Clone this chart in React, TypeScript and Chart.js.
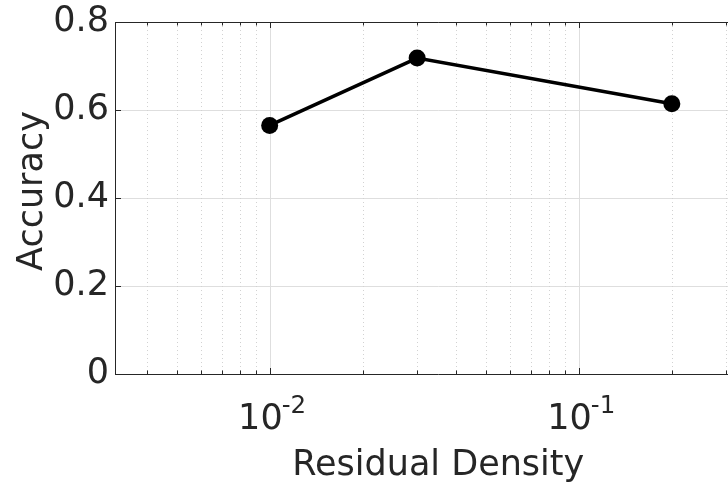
import React, { useEffect, useRef } from "react";
import { Chart, registerables } from "chart.js";

Chart.register(...registerables);

// ---- data ----
const xValues = [0.01, 0.03, 0.2];
const accuracy = [0.565, 0.718, 0.614];
const yTicks = [0, 0.2, 0.4, 0.6, 0.8];
const yTickLabels = ["0", "0.2", "0.4", "0.6", "0.8"];
const xMajorTicks = [0.01, 0.1];
const xTickExponents = ["-2", "-1"];
const xMin = 0.00316;
const xMax = 0.39;
const xTitle = "Residual Density";
const yTitle = "Accuracy";

const FONT = "'DejaVu Sans', sans-serif";
const TEXT = "#262626";
const GRID = "#dedede";
const MINOR_GRID = "#d2d2d2";
const AXIS = "#262626";
const FS = 35;

const framePlugin = {
  id: "frame",
  beforeDatasetsDraw(chart: any) {
    const { ctx, chartArea } = chart;
    const xs = chart.scales.x;
    ctx.save();
    ctx.lineWidth = 1;
    for (let e = -3; e <= 0; e++) {
      for (let m = 1; m <= 9; m++) {
        const v = m * Math.pow(10, e);
        if (v < xMin || v > xMax) continue;
        const px = Math.round(xs.getPixelForValue(v)) + 0.5;
        ctx.beginPath();
        if (m === 1) {
          ctx.setLineDash([]);
          ctx.strokeStyle = GRID;
        } else {
          ctx.setLineDash([1, 3]);
          ctx.strokeStyle = MINOR_GRID;
        }
        ctx.moveTo(px, chartArea.top);
        ctx.lineTo(px, chartArea.bottom);
        ctx.stroke();
      }
    }
    ctx.restore();
  },
  afterDraw(chart: any) {
    const { ctx, chartArea } = chart;
    const xs = chart.scales.x;
    const ys = chart.scales.y;
    ctx.save();
    ctx.strokeStyle = AXIS;
    ctx.lineWidth = 1;
    ctx.setLineDash([]);
    // top frame
    const ty = Math.round(chartArea.top) + 0.5;
    ctx.beginPath();
    ctx.moveTo(chartArea.left, ty);
    ctx.lineTo(chartArea.right, ty);
    ctx.stroke();
    // x ticks (inward) top and bottom
    for (let e = -3; e <= 0; e++) {
      for (let m = 1; m <= 9; m++) {
        const v = m * Math.pow(10, e);
        if (v < xMin || v > xMax) continue;
        const px = Math.round(xs.getPixelForValue(v)) + 0.5;
        const len = m === 1 ? 6 : 3.5;
        ctx.beginPath();
        ctx.moveTo(px, chartArea.bottom);
        ctx.lineTo(px, chartArea.bottom - len);
        ctx.moveTo(px, chartArea.top);
        ctx.lineTo(px, chartArea.top + len);
        ctx.stroke();
      }
    }
    // y ticks (inward)
    yTicks.forEach((v) => {
      const py = Math.round(ys.getPixelForValue(v)) + 0.5;
      ctx.beginPath();
      ctx.moveTo(chartArea.left, py);
      ctx.lineTo(chartArea.left + 6, py);
      ctx.stroke();
    });
    // x tick labels 10^n
    ctx.fillStyle = TEXT;
    ctx.textBaseline = "alphabetic";
    xMajorTicks.forEach((v, i) => {
      const px = xs.getPixelForValue(v);
      ctx.font = `${FS}px ${FONT}`;
      ctx.textAlign = "right";
      ctx.fillText("10", px + 13, 429);
      ctx.font = `${FS * 0.7}px ${FONT}`;
      ctx.textAlign = "left";
      ctx.fillText(xTickExponents[i], px + 12, 413);
    });
    // y axis title
    const cy = (chartArea.top + chartArea.bottom) / 2 - 7;
    ctx.translate(42, cy);
    ctx.rotate(-Math.PI / 2);
    ctx.font = `${FS}px ${FONT}`;
    ctx.textAlign = "center";
    ctx.textBaseline = "alphabetic";
    ctx.fillText(yTitle, 0, 0);
    ctx.restore();
  },
};

export default function App() {
  const ref = useRef<HTMLCanvasElement | null>(null);
  useEffect(() => {
    if (!ref.current) return;
    const chart = new Chart(ref.current, {
      type: "line",
      data: {
        datasets: [
          {
            label: yTitle,
            data: xValues.map((x, i) => ({ x, y: accuracy[i] })),
            borderColor: "#000000",
            backgroundColor: "#000000",
            borderWidth: 3.5,
            pointRadius: 8.5,
            pointBackgroundColor: "#000000",
            pointBorderColor: "#000000",
            pointBorderWidth: 0,
            tension: 0,
            clip: false as any,
          },
        ],
      },
      options: {
        animation: false,
        responsive: false,
        devicePixelRatio: 1,
        layout: { padding: { top: 22, right: 7, left: 0, bottom: 0 } },
        plugins: { legend: { display: false }, tooltip: { enabled: false } },
        scales: {
          x: {
            type: "logarithmic",
            min: xMin,
            max: xMax,
            ticks: { display: false },
            grid: { display: false },
            border: { display: true, color: AXIS, width: 1 },
            title: {
              display: true,
              text: xTitle,
              color: TEXT,
              font: { family: FONT, size: FS },
              padding: { top: 0, bottom: 0 },
            },
            afterFit: (s: any) => {
              s.height = 113;
              s.paddingLeft = 0;
              s.paddingRight = 0;
            },
          },
          y: {
            type: "linear",
            min: 0,
            max: 0.8,
            afterBuildTicks: (s: any) => {
              s.ticks = yTicks.map((v) => ({ value: v }));
            },
            ticks: {
              color: TEXT,
              font: { family: FONT, size: FS },
              padding: 6,
              callback: (v: any) => {
                const i = yTicks.findIndex((t) => Math.abs(t - Number(v)) < 1e-9);
                return i >= 0 ? yTickLabels[i] : "";
              },
            },
            grid: { color: GRID, lineWidth: 1, drawTicks: false },
            border: { display: true, color: AXIS, width: 1 },
            title: { display: false, text: yTitle },
            afterFit: (s: any) => {
              s.width = 115;
              s.paddingTop = 0;
              s.paddingBottom = 0;
            },
          },
        },
      },
      plugins: [framePlugin],
    });
    return () => chart.destroy();
  }, []);
  return (
    <div
      style={{
        position: "fixed",
        left: 0,
        top: 0,
        width: 728,
        height: 487,
        overflow: "hidden",
        background: "#ffffff",
      }}
    >
      <canvas ref={ref} width={770} height={487} style={{ display: "block" }} />
    </div>
  );
}
